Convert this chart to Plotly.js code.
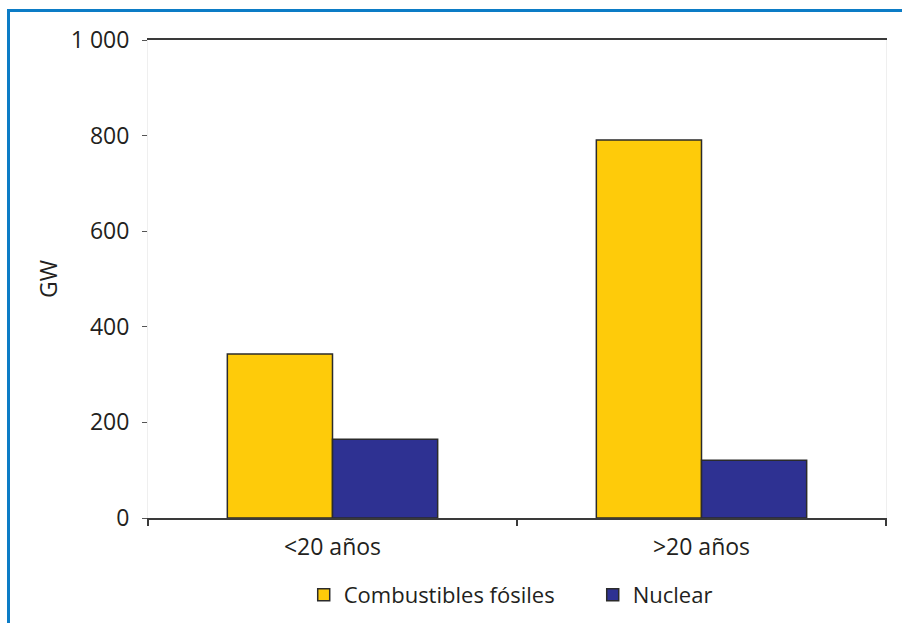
<!DOCTYPE html>
<html>
<head>
<meta charset="utf-8">
<script src="https://cdn.plot.ly/plotly-3.0.1.min.js"></script>
<style>
  html, body { margin: 0; padding: 0; background: #ffffff; }
  #wrap { position: relative; width: 902px; height: 623px; overflow: hidden; }
  #chart { position: absolute; left: 0; top: 0; width: 902px; height: 623px; }
  #frame { position: absolute; left: 7px; top: 9px; width: 900px; height: 620px;
           border-left: 3px solid #0c7cc6; border-top: 3px solid #0c7cc6; pointer-events: none; }
</style>
</head>
<body>
<div id="wrap">
  <div id="chart"></div>
  <div id="frame"></div>
</div>
<script>
// Data
const categories = ['<20 años', '>20 años'];
const fossilValues = [343, 791];
const nuclearValues = [165, 121];
const seriesNames = ['Combustibles fósiles', 'Nuclear'];
const yTickVals = [0, 200, 400, 600, 800, 1000];
const yTickText = ['0', '200', '400', '600', '800', '1 000'];
const yTitle = 'GW';

const FONT = '"Open Sans", Lato, sans-serif';
const TXT = '#231f20';
const FS = 23;
const FSL = 22;

const traces = [
  {
    type: 'bar', name: seriesNames[0], x: categories, y: fossilValues,
    marker: { color: '#fecb0a', line: { color: '#2b2b2b', width: 1.5 } },
    hoverinfo: 'skip'
  },
  {
    type: 'bar', name: seriesNames[1], x: categories, y: nuclearValues,
    marker: { color: '#2e3192', line: { color: '#2b2b2b', width: 1.5 } },
    hoverinfo: 'skip'
  }
];

const layout = {
  width: 902, height: 623,
  margin: { l: 148, r: 16, t: 40, b: 105, autoexpand: false },
  paper_bgcolor: '#ffffff', plot_bgcolor: '#ffffff',
  font: { family: FONT, size: FS, color: TXT },
  barmode: 'group',
  bargap: 0.43,
  bargroupgap: 0,
  showlegend: true,
  legend: {
    orientation: 'h', x: 0.211, xanchor: 'left', y: -0.161, yanchor: 'middle',
    font: { family: FONT, size: FSL, color: TXT },
    entrywidth: 244, entrywidthmode: 'pixels',
    itemwidth: 30, traceorder: 'normal'
  },
  xaxis: {
    type: 'category', automargin: false,
    showline: true, linecolor: '#3a3a3a', linewidth: 2, mirror: true,
    ticks: 'outside', tickson: 'boundaries', ticklen: 6, tickcolor: '#3a3a3a', tickwidth: 1.5,
    showgrid: false, zeroline: false,
    tickfont: { family: FONT, size: FS, color: TXT },
    ticklabelstandoff: 7
  },
  yaxis: {
    range: [0, 1000], tickvals: yTickVals, ticktext: yTickText, automargin: false,
    showline: true, linecolor: '#efefef', linewidth: 1, mirror: true,
    ticks: 'outside', ticklen: 5, tickcolor: '#555555', tickwidth: 1,
    showgrid: false, zeroline: false,
    tickfont: { family: FONT, size: FS, color: TXT },
    ticklabelstandoff: 8,
    title: { text: yTitle, font: { family: FONT, size: FS, color: TXT }, standoff: 6 }
  }
};

Plotly.newPlot('chart', traces, layout, { staticPlot: true, displayModeBar: false });
</script>
</body>
</html>
